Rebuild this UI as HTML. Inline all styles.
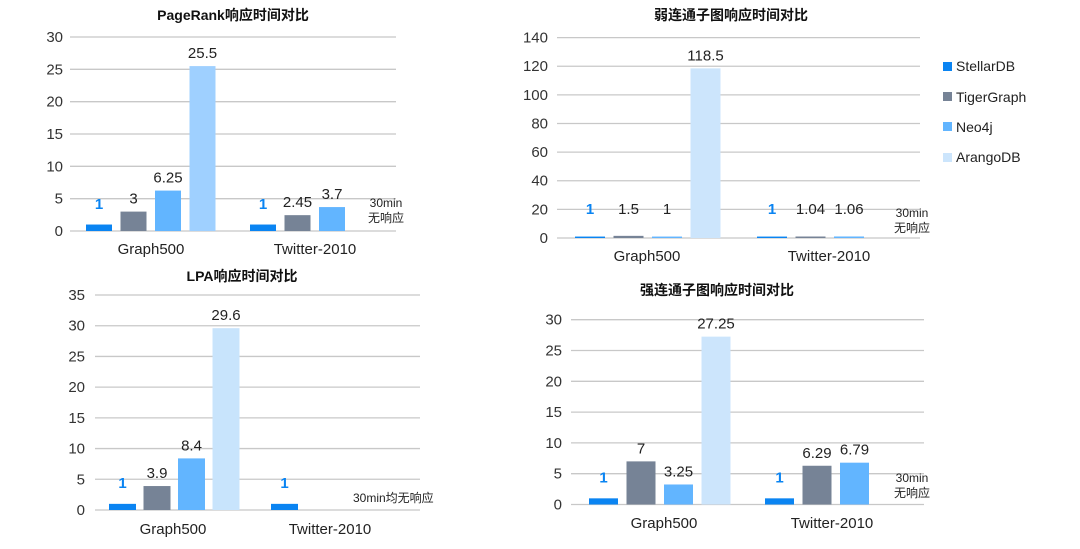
<!DOCTYPE html>
<html><head><meta charset="utf-8"><style>
body{margin:0;background:#fff;width:1080px;height:544px;overflow:hidden}
svg{font-family:"Liberation Sans","Noto Sans CJK SC",sans-serif}
</style></head><body>
<svg id="s" width="1080" height="544">
<g font-size="14" fill="#222">
<rect x="943" y="62" width="9" height="9" fill="#0a84f2"/><text x="956" y="71">StellarDB</text>
<rect x="943" y="92" width="9" height="9" fill="#768396"/><text x="956" y="102">TigerGraph</text>
<rect x="943" y="122" width="9" height="9" fill="#62b5ff"/><text x="956" y="132">Neo4j</text>
<rect x="943" y="153" width="9" height="9" fill="#cce5fc"/><text x="956" y="162">ArangoDB</text>
</g>
</svg>
<script>
const categories=["Graph500","Twitter-2010"];
const seriesNames=["StellarDB","TigerGraph","Neo4j","ArangoDB"];
const prG500=[1,3,6.25,25.5];
const prTw=[1,2.45,3.7];
const prTicks=[0,5,10,15,20,25,30];
const wccG500=[1,1.5,1,118.5];
const wccTw=[1,1.04,1.06];
const wccTicks=[0,20,40,60,80,100,120,140];
const lpaG500=[1,3.9,8.4,29.6];
const lpaTw=[1];
const lpaTicks=[0,5,10,15,20,25,30,35];
const sccG500=[1,7,3.25,27.25];
const sccTw=[1,6.29,6.79];
const sccTicks=[0,5,10,15,20,25,30];
const titles=["PageRank响应时间对比","弱连通子图响应时间对比","LPA响应时间对比","强连通子图响应时间对比"];
const colors=["#0a84f2","#768396","#62b5ff","#cce5fc"];
const NS="http://www.w3.org/2000/svg";
const svg=document.getElementById('s');
function mk(tag,at,parent,txt){const e=document.createElementNS(NS,tag);for(const k in at)e.setAttribute(k,at[k]);if(txt!==undefined)e.textContent=txt;(parent||svg).appendChild(e);return e;}
const charts=[
 {title:titles[0],tx:233,ty:20,y0:231,yTop:37,x0:70,x1:396,lx:63,ticks:prTicks,g:[prG500,prTw],gx:[86,250],step:34.5,bw:26,cx:[151,315],cy:254,note:["30min","无响应"],nx:386,ny:[207,222],arango:"#9fd0ff",minL:14},
 {title:titles[1],tx:731,ty:20,y0:238,yTop:37.6,x0:557,x1:920,lx:548,ticks:wccTicks,g:[wccG500,wccTw],gx:[575,757],step:38.5,bw:30,cx:[647,829],cy:261,note:["30min","无响应"],nx:912,ny:[217,232],arango:"#cce5fc",minL:16},
 {title:titles[2],tx:242,ty:281,y0:510,yTop:295,x0:95,x1:420,lx:85,ticks:lpaTicks,g:[lpaG500,lpaTw],gx:[109,271],step:34.5,bw:27,cx:[173,330],cy:534,note:["30min均无响应"],nx:353,ny:[502],arango:"#c8e4fc",minL:14},
 {title:titles[3],tx:717,ty:295,y0:504.5,yTop:319.7,x0:571,x1:924,lx:562,ticks:sccTicks,g:[sccG500,sccTw],gx:[589,765],step:37.5,bw:29,cx:[664,832],cy:528,note:["30min","无响应"],nx:912,ny:[482,497],arango:"#cce5fc",minL:14}
];
charts.forEach((c,ci)=>{
 const grp=mk('g',{});
 
 
 const max=c.ticks[c.ticks.length-1];
 const y=v=>c.y0-(c.y0-c.yTop)*v/max;
 const t=mk('text',{x:c.tx,y:c.ty,'text-anchor':'middle','font-size':14,'font-weight':'bold',fill:'#111'},grp,c.title);
 
 
 c.ticks.forEach(v=>{
  const l=mk('line',{x1:c.x0,x2:c.x1,y1:y(v),y2:y(v),stroke:'#c8c8c8','stroke-width':1.3},grp);
  
  
  const tl=mk('text',{x:c.lx,y:y(v)+5,'text-anchor':'end','font-size':15,fill:'#333'},grp,String(v));
  
  
 });
 c.g.forEach((vals,gi)=>{
  vals.forEach((v,si)=>{
   const x=c.gx[gi]+si*c.step;
   const col=si===3?c.arango:colors[si];
   const r=mk('rect',{x:x,y:y(v),width:c.bw,height:c.y0-y(v),fill:col},grp);
   
   
   const lab=mk('text',{x:x+c.bw/2,y:Math.min(y(v),c.y0-c.minL)-8,'text-anchor':'middle','font-size':15,fill:si===0?'#0a84f2':'#222','font-weight':si===0?'bold':'normal'},grp,String(v));
   
   
  });
  const cl=mk('text',{x:c.cx[gi],y:c.cy,'text-anchor':'middle','font-size':15,fill:'#222'},grp,categories[gi]);
  
  
 });
 c.note.forEach((s,i)=>{
  const n=mk('text',{x:c.nx,y:c.ny[i],'text-anchor':c.note.length>1?'middle':'start','font-size':12,fill:'#222'},grp,s);
  
  
 });
});
</script>
</body></html>
